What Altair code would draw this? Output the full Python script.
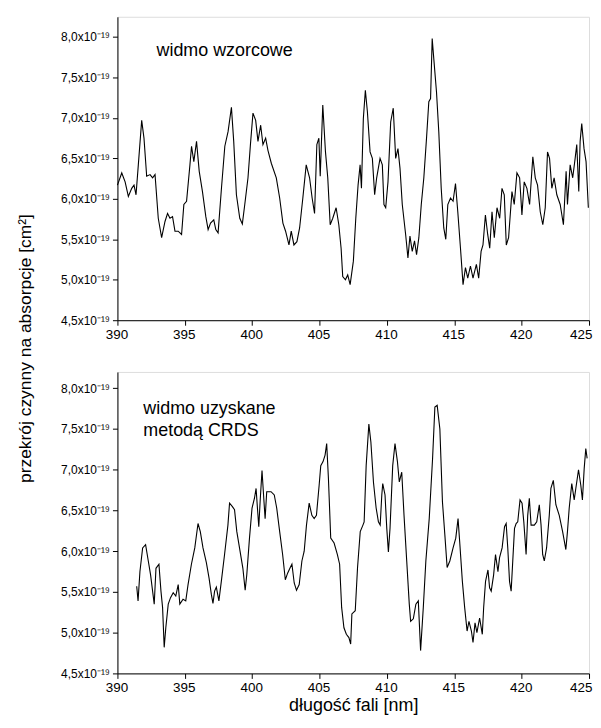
import altair as alt
import pandas as pd

# ---- data (values in units of 1e-19 cm^2) ----
lam_top = [390.00, 390.32, 390.57, 390.81, 391.06, 391.23, 391.38, 391.55, 391.80, 391.97,
           392.17, 392.42, 392.61, 392.79, 393.03, 393.28, 393.53, 393.72, 393.90, 394.09,
           394.27, 394.51, 394.76, 394.93, 395.13, 395.38, 395.50, 395.67, 395.87, 396.07,
           396.31, 396.56, 396.73, 396.91, 397.15, 397.30, 397.47, 397.72, 397.97, 398.21,
           398.46, 398.63, 398.83, 399.08, 399.27, 399.45, 399.69, 399.87, 400.06, 400.26,
           400.43, 400.63, 400.80, 401.00, 401.17, 401.42, 401.79, 402.04, 402.28, 402.48,
           402.73, 402.90, 403.10, 403.32, 403.52, 403.76, 404.01, 404.26, 404.45, 404.63,
           404.80, 404.95, 405.05, 405.24, 405.44, 405.61, 405.79, 405.98, 406.23, 406.43,
           406.60, 406.72, 406.92, 407.09, 407.27, 407.51, 407.69, 407.86, 408.01, 408.11,
           408.25, 408.40, 408.55, 408.75, 408.92, 409.09, 409.24, 409.49, 409.66, 409.78,
           409.91, 410.08, 410.28, 410.47, 410.65, 410.82, 410.97, 411.14, 411.39, 411.56,
           411.71, 411.88, 412.05, 412.20, 412.37, 412.55, 412.74, 412.94, 413.11, 413.24,
           413.36, 413.48, 413.68, 413.85, 414.03, 414.22, 414.37, 414.52, 414.72, 414.91,
           415.09, 415.26, 415.46, 415.65, 415.83, 416.00, 416.20, 416.39, 416.64, 416.81,
           416.99, 417.13, 417.31, 417.48, 417.63, 417.80, 417.97, 418.17, 418.37, 418.54,
           418.71, 418.86, 419.03, 419.28, 419.45, 419.65, 419.85, 420.02, 420.19, 420.39,
           420.59, 420.83, 421.01, 421.18, 421.38, 421.57, 421.75, 421.92, 422.07, 422.24,
           422.41, 422.61, 422.86, 423.10, 423.30, 423.40, 423.60, 423.79, 423.97, 424.09,
           424.24, 424.34, 424.46, 424.63, 424.78, 424.95]
val_top = [6.17, 6.32, 6.21, 6.03, 6.13, 6.17, 6.05, 6.42, 6.97, 6.75,
           6.28, 6.30, 6.26, 6.30, 5.76, 5.52, 5.72, 5.82, 5.76, 5.78,
           5.60, 5.60, 5.56, 5.93, 5.97, 6.42, 6.65, 6.46, 6.71, 6.34,
           6.09, 5.78, 5.62, 5.70, 5.74, 5.62, 5.58, 6.13, 6.65, 6.83,
           7.13, 6.71, 6.05, 5.76, 5.69, 5.93, 6.26, 6.67, 7.06, 6.97,
           6.71, 6.91, 6.67, 6.75, 6.60, 6.44, 6.26, 6.01, 5.70, 5.60,
           5.43, 5.60, 5.43, 5.47, 5.64, 6.01, 6.42, 6.26, 6.01, 5.82,
           6.67, 6.75, 6.28, 7.16, 6.58, 6.26, 5.68, 5.76, 5.89, 5.68,
           5.39, 5.04, 5.00, 5.06, 4.94, 5.23, 5.76, 6.17, 6.42, 6.13,
           6.99, 7.34, 7.08, 6.58, 6.50, 6.05, 6.26, 6.50, 6.42, 5.93,
           5.89, 6.21, 6.95, 7.12, 6.50, 6.62, 6.38, 5.93, 5.56, 5.27,
           5.54, 5.35, 5.48, 5.31, 5.52, 5.93, 6.26, 6.75, 7.20, 7.24,
           7.98, 7.73, 7.32, 6.83, 6.13, 5.64, 5.50, 5.93, 6.01, 5.97,
           6.19, 5.84, 5.39, 4.94, 5.15, 5.02, 5.17, 5.02, 5.19, 5.02,
           5.35, 5.43, 5.80, 5.56, 5.39, 5.84, 5.52, 5.89, 5.76, 6.13,
           6.05, 5.43, 5.52, 6.09, 5.93, 6.32, 6.26, 5.80, 6.21, 6.13,
           5.93, 6.52, 6.26, 6.17, 5.84, 5.68, 5.89, 6.58, 6.50, 6.13,
           6.26, 6.05, 5.93, 5.68, 6.34, 5.93, 6.42, 6.26, 6.50, 6.67,
           6.09, 6.71, 6.93, 6.62, 6.46, 5.89]

lam_bot = [391.43, 391.53, 391.67, 391.87, 392.09, 392.29, 392.46, 392.61, 392.73, 392.86,
           393.08, 393.23, 393.35, 393.47, 393.59, 393.77, 393.94, 394.14, 394.33, 394.51,
           394.63, 394.87, 395.07, 395.24, 395.49, 395.74, 395.98, 396.15, 396.35, 396.60,
           396.80, 396.97, 397.09, 397.21, 397.34, 397.53, 397.71, 397.95, 398.20, 398.32,
           398.52, 398.69, 398.86, 399.06, 399.31, 399.48, 399.60, 399.80, 399.99, 400.17,
           400.29, 400.39, 400.49, 400.59, 400.73, 400.86, 400.96, 401.08, 401.40, 401.64,
           401.82, 402.01, 402.26, 402.46, 402.63, 402.80, 402.95, 403.12, 403.29, 403.49,
           403.69, 403.86, 404.03, 404.23, 404.43, 404.60, 404.77, 404.97, 405.09, 405.26,
           405.41, 405.53, 405.66, 405.83, 406.08, 406.32, 406.49, 406.64, 406.81, 406.99,
           407.18, 407.31, 407.40, 407.65, 407.82, 408.02, 408.22, 408.31, 408.46, 408.66,
           408.81, 409.00, 409.20, 409.37, 409.50, 409.62, 409.69, 409.86, 409.99, 410.11,
           410.23, 410.43, 410.60, 410.78, 410.92, 411.10, 411.27, 411.47, 411.66, 411.76,
           411.96, 412.15, 412.33, 412.50, 412.70, 412.89, 413.14, 413.39, 413.56, 413.73,
           413.93, 414.12, 414.30, 414.47, 414.67, 414.91, 415.11, 415.28, 415.40, 415.60,
           415.77, 415.95, 416.09, 416.27, 416.39, 416.54, 416.68, 416.88, 417.08, 417.18,
           417.32, 417.50, 417.62, 417.74, 417.92, 418.06, 418.24, 418.36, 418.55, 418.73,
           418.85, 418.97, 419.10, 419.22, 419.34, 419.47, 419.59, 419.71, 419.88, 420.03,
           420.16, 420.33, 420.45, 420.57, 420.70, 420.94, 421.12, 421.31, 421.44, 421.56,
           421.68, 421.85, 422.05, 422.17, 422.35, 422.54, 422.79, 423.04, 423.28, 423.40,
           423.53, 423.72, 423.90, 424.02, 424.22, 424.39, 424.51, 424.64, 424.76, 424.86]
val_bot = [5.57, 5.39, 5.75, 6.04, 6.08, 5.88, 5.71, 5.51, 5.35, 5.79,
           5.84, 5.51, 5.31, 4.82, 5.06, 5.35, 5.43, 5.49, 5.45, 5.59,
           5.35, 5.41, 5.39, 5.59, 5.84, 6.04, 6.34, 6.24, 6.04, 5.86,
           5.67, 5.47, 5.36, 5.51, 5.56, 5.39, 5.63, 5.96, 6.32, 6.59,
           6.55, 6.51, 6.24, 6.04, 5.79, 5.52, 5.71, 6.16, 6.53, 6.65,
           6.77, 6.53, 6.30, 6.61, 6.99, 6.65, 6.40, 6.73, 6.73, 6.69,
           6.53, 6.28, 5.96, 5.65, 5.73, 5.79, 5.84, 5.61, 5.52, 5.59,
           5.88, 6.00, 6.32, 6.59, 6.44, 6.40, 6.44, 6.81, 7.05, 7.10,
           7.18, 7.32, 6.89, 6.16, 6.10, 5.96, 5.84, 5.31, 5.06, 4.98,
           4.94, 4.86, 5.23, 5.27, 5.80, 6.24, 6.32, 6.36, 7.05, 7.56,
           7.34, 6.85, 6.53, 6.36, 6.32, 6.69, 6.83, 6.69, 6.28, 5.99,
           6.28, 7.05, 7.32, 7.10, 6.85, 6.97, 6.44, 5.88, 5.35, 5.14,
           5.17, 5.35, 5.39, 4.78, 5.31, 5.88, 6.40, 7.14, 7.77, 7.79,
           7.50, 6.61, 6.20, 5.80, 5.88, 6.04, 6.16, 6.40, 6.12, 5.63,
           5.31, 5.02, 5.14, 5.02, 4.88, 5.12, 5.00, 5.18, 4.98, 5.31,
           5.63, 5.77, 5.55, 5.51, 5.71, 5.96, 5.75, 5.92, 6.04, 6.30,
           6.34, 6.04, 5.63, 5.51, 5.88, 6.28, 6.34, 6.36, 6.63, 6.59,
           6.36, 5.96, 6.44, 6.65, 6.32, 6.32, 6.36, 6.57, 6.32, 5.96,
           5.88, 6.04, 6.44, 6.77, 6.87, 6.57, 6.44, 6.24, 6.02, 6.24,
           6.53, 6.83, 6.63, 6.77, 7.00, 6.81, 6.63, 7.01, 7.26, 7.14]

y_ticks = [4.5, 4.75, 5.0, 5.25, 5.5, 5.75, 6.0, 6.25, 6.5, 6.75, 7.0, 7.25, 7.5, 7.75, 8.0]
x_ticks = [390, 392.5, 395, 397.5, 400, 402.5, 405, 407.5, 410, 412.5, 415, 417.5, 420, 422.5, 425]

note_top = ["widmo wzorcowe"]
note_top_pos = [392.9, 7.77]
note_bot = ["widmo uzyskane\nmetodą CRDS"]
note_bot_pos = [391.92, 7.69]

y_title = "przekrój czynny na absorpcje [cm²]"
x_title = "długość fali [nm]"

FONT = "Liberation Sans"

df_top = pd.DataFrame({"lam": lam_top, "val": val_top})
df_bot = pd.DataFrame({"lam": lam_bot, "val": val_bot})

ylabel_expr = ("(round(datum.value*100) % 50 == 0) ? "
               "replace(format(datum.value, '.1f'), '.', ',') + 'x10⁻¹⁹' : ''")
xlabel_expr = "(datum.value % 5 == 0) ? format(datum.value, 'd') : ''"


def x_axis(title=None):
    kw = dict(values=x_ticks, labelExpr=xlabel_expr, grid=False, tickSize=5, tickWidth=1,
              tickColor="black", domainColor="black", labelColor="black",
              labelFont=FONT, labelFontSize=13.5, labelPadding=2, labelFlush=False,
              labelAlign={"condition": {"test": "datum.value == 425", "value": "right"},
                          "value": "center"},
              labelOffset={"condition": {"test": "datum.value == 425", "value": 3},
                           "value": -1})
    if title:
        kw.update(title=title, titleFont=FONT, titleFontSize=18, titleFontWeight="normal",
                  titleColor="black", titleBaseline="alphabetic", titleY=37)
    else:
        kw.update(title=None)
    return alt.Axis(**kw)


def y_axis(title=None):
    kw = dict(values=y_ticks, labelExpr=ylabel_expr, grid=False, tickSize=5, tickWidth=1,
              tickColor="black", domainColor="black", labelColor="black",
              labelFont=FONT, labelFontSize=12, labelPadding=3, labelBaseline="middle")
    if title:
        kw.update(title=title, titleFont=FONT, titleFontSize=17.5, titleFontWeight="normal",
                  titleColor="black", titleAngle=270, titleAlign="center",
                  titleBaseline="middle", titleX=-92, titleY=333)
    else:
        kw.update(title=None)
    return alt.Axis(**kw)


def panel(df, ydom, height, note, note_pos, xt=None, yt=None):
    base_x = alt.X("lam:Q", scale=alt.Scale(domain=[390, 425], nice=False, zero=False),
                   axis=x_axis(xt))
    base_y = alt.Y("val:Q", scale=alt.Scale(domain=ydom, nice=False, zero=False),
                   axis=y_axis(yt))
    line = alt.Chart(df).mark_line(color="black", strokeWidth=1.1).encode(x=base_x, y=base_y)
    tdf = pd.DataFrame({"lam": [note_pos[0]], "val": [note_pos[1]], "t": note})
    txt = alt.Chart(tdf).mark_text(align="left", baseline="alphabetic", font=FONT,
                                   fontSize=18, color="black", lineBreak="\n",
                                   lineHeight=23).encode(
        x=alt.X("lam:Q"), y=alt.Y("val:Q"), text="t:N")
    return alt.layer(line, txt).properties(width=474, height=height)


top = panel(df_top, [4.5, 8.25], 305, note_top, note_top_pos, yt=y_title)
bot = panel(df_bot, [4.5, 8.2], 303, note_bot, note_bot_pos, xt=x_title)

chart = alt.vconcat(top, bot, spacing=52, bounds="flush").resolve_scale(
    x="independent", y="independent"
).properties(
    padding={"left": 8, "top": 6, "right": 0, "bottom": 0}
).configure_view(stroke=None).configure(background="white")

chart.save("out.html", embed_options={"renderer": "svg", "actions": False})
